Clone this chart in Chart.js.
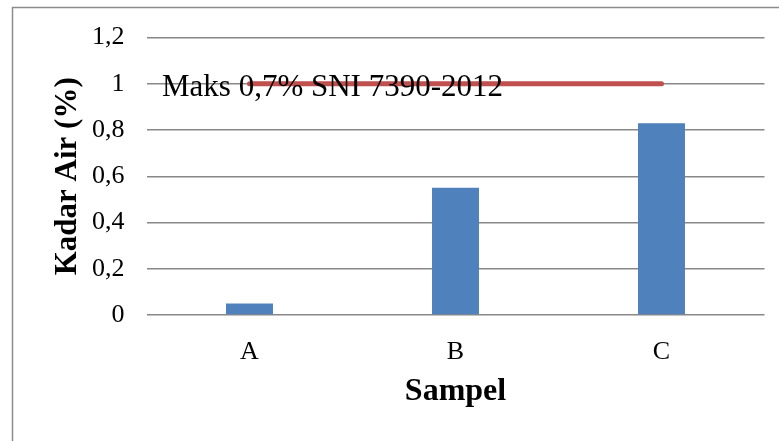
<!DOCTYPE html>
<html>
<head>
<meta charset="utf-8">
<script src="https://cdn.jsdelivr.net/npm/chart.js@4.4.1/dist/chart.umd.min.js"></script>
<style>
  html, body { margin: 0; padding: 0; background: #ffffff; }
  #wrap { width: 779px; height: 441px; position: relative; }
</style>
</head>
<body>
<div id="wrap"><canvas id="chart" width="779" height="441"></canvas></div>
<script>
// Moisture content per sample (%)
const categories = ['A', 'B', 'C'];
const kadarAir = [0.05, 0.55, 0.83];
// Reference limit line drawn across the samples
const batasSNI = [1, 1, 1];
const batasLabel = 'Maks 0,7% SNI 7390-2012';
// Y tick labels (decimal comma)
const yTickLabels = ['0', '0,2', '0,4', '0,6', '0,8', '1', '1,2'];

const serif = '"Liberation Serif", "Times New Roman", serif';

// Frame around the chart and the limit caption
const framePlugin = {
  id: 'frame',
  beforeDraw(chart) {
    const ctx = chart.ctx;
    ctx.save();
    ctx.fillStyle = '#ffffff';
    ctx.fillRect(0, 0, chart.width, chart.height);
    ctx.strokeStyle = '#8c8c8c';
    ctx.lineWidth = 1.5;
    ctx.strokeRect(12.5, 7.5, 900, 600);
    ctx.restore();
  },
  afterDatasetsDraw(chart) {
    const ctx = chart.ctx;
    const y = chart.scales.y.getPixelForValue(batasSNI[0]);
    ctx.save();
    ctx.fillStyle = '#000000';
    ctx.font = '31px ' + serif;
    ctx.textAlign = 'left';
    ctx.textBaseline = 'alphabetic';
    ctx.fillText(batasLabel, 162, y + 12);
    ctx.restore();
  }
};

new Chart(document.getElementById('chart'), {
  data: {
    labels: categories,
    datasets: [
      {
        type: 'line',
        data: batasSNI,
        borderColor: '#C0504D',
        borderWidth: 5,
        borderCapStyle: 'round',
        pointRadius: 0,
        fill: false,
        order: 0
      },
      {
        type: 'bar',
        data: kadarAir,
        backgroundColor: '#4F81BD',
        borderWidth: 0,
        categoryPercentage: 1,
        barPercentage: 0.228,
        order: 1
      }
    ]
  },
  options: {
    responsive: false,
    animation: false,
    events: [],
    layout: { padding: { left: 12, right: 14.5, top: 36.5, bottom: 0 } },
    plugins: { legend: { display: false }, tooltip: { enabled: false } },
    scales: {
      x: {
        afterFit(scale) { scale.height = 126; },
        grid: { display: false, drawTicks: false },
        border: { display: false },
        ticks: { color: '#000000', font: { family: serif, size: 26 }, padding: 22 },
        title: {
          display: true, text: 'Sampel', color: '#000000',
          font: { family: serif, size: 32, weight: 'bold' },
          padding: { top: 0, bottom: 30 }
        }
      },
      y: {
        min: 0, max: 1.2,
        afterFit(scale) { scale.width = 134.5; },
        grid: { color: '#888888', lineWidth: 1.5, drawTicks: false },
        border: { display: false },
        ticks: {
          stepSize: 0.2, padding: 22, color: '#000000',
          font: { family: serif, size: 26 },
          callback(value, index) { return yTickLabels[index]; }
        },
        title: {
          display: true, text: 'Kadar Air (%)', color: '#000000',
          font: { family: serif, size: 31, weight: 'bold' },
          padding: { top: 37, bottom: 0 }
        }
      }
    }
  },
  plugins: [framePlugin]
});
</script>
</body>
</html>
